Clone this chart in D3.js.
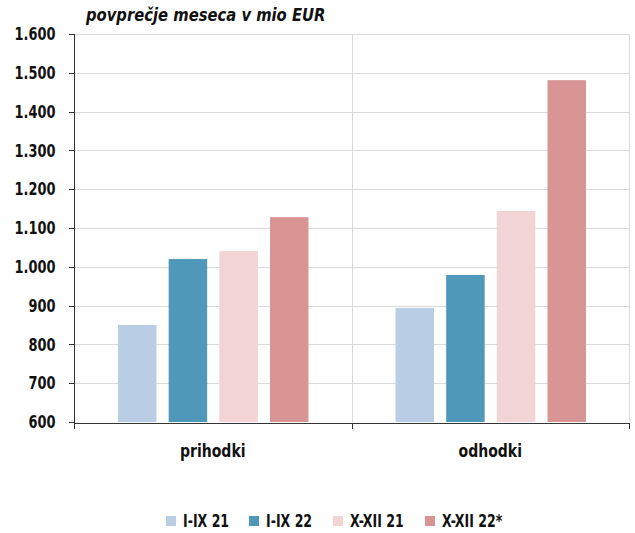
<!DOCTYPE html>
<meta charset="utf-8">
<style>
body { margin: 0; background: #fff; }
svg text { font-family: 'DejaVu Sans', sans-serif; fill: #111; }
.grid line { stroke: #d9d9d9; stroke-width: 1px; }
.axis path, .axis line { stroke: #333; shape-rendering: crispEdges; }
</style>
<body>
<script src="https://d3js.org/d3.v7.min.js"></script>
<script>

// data
var categories = ["prihodki", "odhodki"];
var seriesNames = ["I-IX 21", "I-IX 22", "X-XII 21", "X-XII 22*"];
var prihodki = [850, 1020, 1041, 1128];
var odhodki = [894, 979, 1144, 1481];
var yTicks = [600, 700, 800, 900, 1000, 1100, 1200, 1300, 1400, 1500, 1600];
var colors = ["#b9cde5", "#4f98b9", "#f2d4d5", "#d99594"];

var values = [prihodki, odhodki];

var margin = {top: 34, right: 5, bottom: 111, left: 74},
    width = 635 - margin.left - margin.right,
    height = 533 - margin.top - margin.bottom;

// the original font is a narrow one, so squeeze text horizontally
function narrow(sel, px, py, k) {
  sel.attr("x", 0).attr("y", 0)
     .attr("transform", function(d, i) {
       return "translate(" + px(d, i) + "," + py(d, i) + ") scale(" + k + ",1)";
     });
}

var svg = d3.select("body").append("svg")
    .attr("width", 635)
    .attr("height", 533)
  .append("g")
    .attr("transform", "translate(" + margin.left + "," + margin.top + ")");

var x = d3.scaleBand().domain(categories).range([0, width - 1]);
var xInner = d3.scaleBand().domain(seriesNames).range([44, x.bandwidth() - 43]).paddingInner(0.24);
var y = d3.scaleLinear().domain([600, 1600]).range([height, 0]);

// horizontal grid
svg.append("g").attr("class", "grid")
  .selectAll("line").data(yTicks.slice(1)).enter().append("line")
    .attr("x1", 0).attr("x2", width - 1)
    .attr("y1", function(d) { return Math.round(y(d)) + 0.5; })
    .attr("y2", function(d) { return Math.round(y(d)) + 0.5; });

// vertical grid at category boundaries
svg.append("g").attr("class", "grid")
  .selectAll("line").data(categories).enter().append("line")
    .attr("x1", function(d) { return Math.round(x(d) + x.bandwidth()) + 0.5; })
    .attr("x2", function(d) { return Math.round(x(d) + x.bandwidth()) + 0.5; })
    .attr("y1", 0).attr("y2", height);

// bars
categories.forEach(function(c, ci) {
  svg.append("g")
    .selectAll("rect").data(values[ci]).enter().append("rect")
      .attr("x", function(d, i) { return x(c) + xInner(seriesNames[i]); })
      .attr("width", xInner.bandwidth())
      .attr("y", function(d) { return y(d); })
      .attr("height", function(d) { return height - y(d); })
      .attr("fill", function(d, i) { return colors[i]; });
});

// y axis
var yAxis = svg.append("g").attr("class", "axis")
    .attr("transform", "translate(0.5,0)")
    .call(d3.axisLeft(y).tickValues(yTicks).tickSize(6)
      .tickFormat(function(d) { return d3.format(",")(d).replace(",", "."); }));
yAxis.select(".domain").attr("d", "M0," + height + "V0");
yAxis.selectAll("text")
    .style("font-size", "18px")
    .style("font-weight", "bold")
    .call(narrow, function() { return -19; }, function() { return 0; }, 0.72);

// x axis
svg.append("g").attr("class", "axis")
    .attr("transform", "translate(0," + (Math.round(height) + 0.5) + ")")
    .call(d3.axisBottom(x).tickValues([]).tickSizeOuter(0))
  .call(function(g) {
    var bounds = [0].concat(categories.map(function(c) { return x(c) + x.bandwidth(); }));
    g.selectAll(".sep").data(bounds).enter().append("line")
      .attr("class", "sep")
      .attr("x1", function(d) { return Math.round(d) + 0.5; })
      .attr("x2", function(d) { return Math.round(d) + 0.5; })
      .attr("y1", 0).attr("y2", 6)
      .attr("stroke", "#333");
  });

// category labels
svg.append("g").selectAll("text").data(categories).enter().append("text")
    .attr("text-anchor", "middle")
    .style("font-size", "18px")
    .style("font-weight", "bold")
    .text(function(d) { return d; })
    .call(narrow, function(d) { return x(d) + x.bandwidth() / 2; }, function() { return height + 35; }, 0.78);

// title
svg.append("text")
    .style("font-size", "17px")
    .style("font-style", "italic")
    .style("font-weight", "bold")
    .text("povprečje meseca v mio EUR")
    .call(narrow, function() { return 12; }, function() { return -13; }, 0.87);

// legend
var legendX = [166, 249, 333, 425];
var legend = svg.append("g")
    .attr("transform", "translate(" + (-margin.left) + "," + (-margin.top) + ")")
  .selectAll("g").data(seriesNames).enter().append("g")
    .attr("transform", function(d, i) { return "translate(" + legendX[i] + ",516)"; });
legend.append("rect")
    .attr("width", 10).attr("height", 10)
    .attr("fill", function(d, i) { return colors[i]; });
legend.append("text")
    .style("font-size", "17px")
    .style("font-weight", "bold")
    .text(function(d) { return d; })
    .call(narrow, function() { return 17; }, function() { return 11; }, 0.74);

</script>
</body>
